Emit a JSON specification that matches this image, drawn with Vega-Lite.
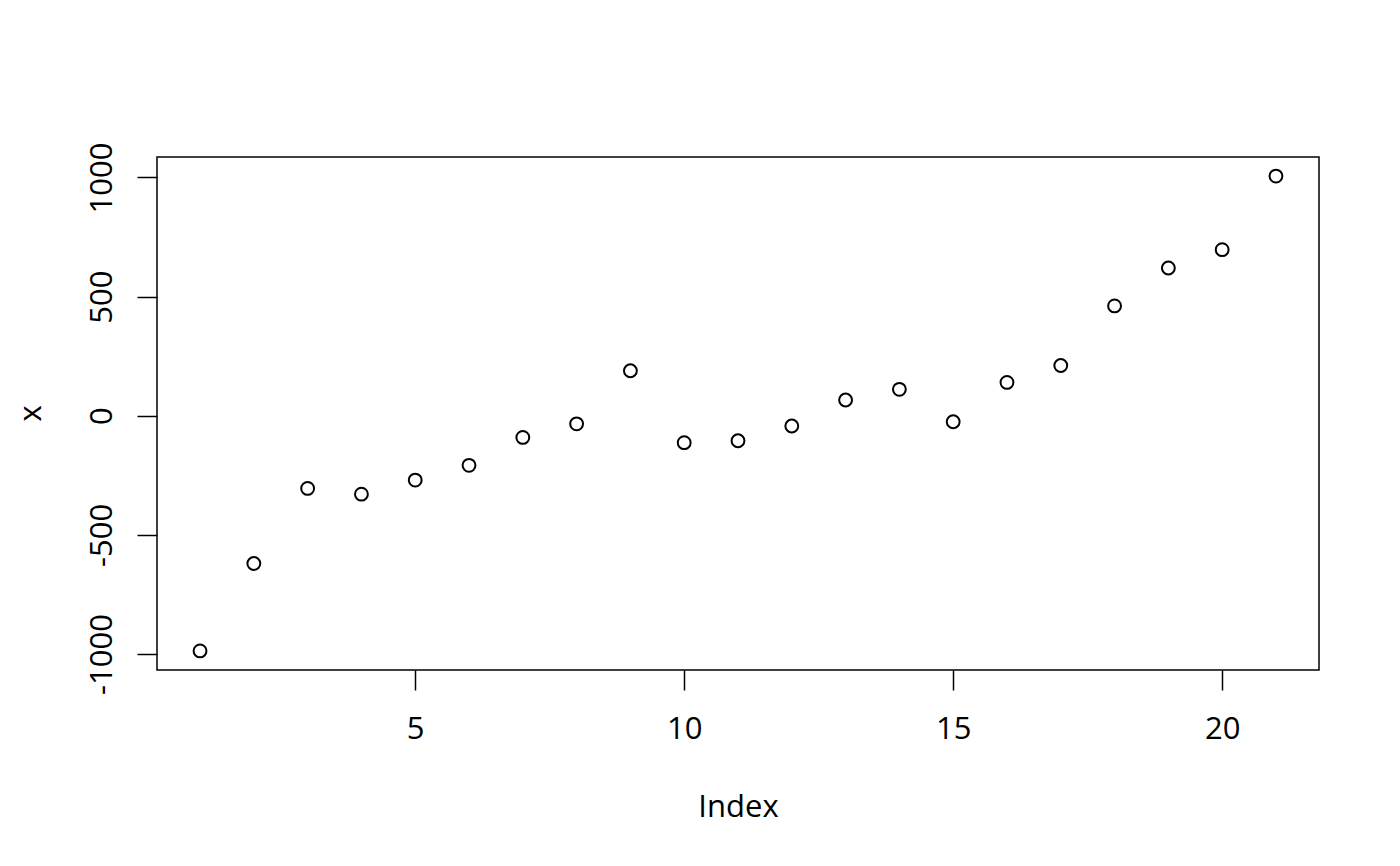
{
  "$schema": "https://vega.github.io/schema/vega-lite/v6.json",
  "width": 1162,
  "height": 513,
  "autosize": "none",
  "padding": {"left": 157, "top": 157, "right": 81, "bottom": 196},
  "background": "white",
  "config": {
    "font": "Open Sans",
    "view": {"stroke": "black", "strokeWidth": 1.5},
    "axis": {
      "labelFont": "Open Sans",
      "titleFont": "Open Sans",
      "labelFontSize": 31,
      "titleFontSize": 31,
      "labelColor": "black",
      "titleColor": "black",
      "titleFontWeight": "normal",
      "tickColor": "black",
      "tickSize": 20,
      "tickWidth": 1.5,
      "domain": false,
      "grid": false
    }
  },
  "data": {
    "values": [
      {"Index": 1, "x": -987},
      {"Index": 2, "x": -620},
      {"Index": 3, "x": -305},
      {"Index": 4, "x": -329},
      {"Index": 5, "x": -270},
      {"Index": 6, "x": -208},
      {"Index": 7, "x": -91},
      {"Index": 8, "x": -34},
      {"Index": 9, "x": 189},
      {"Index": 10, "x": -113},
      {"Index": 11, "x": -105},
      {"Index": 12, "x": -43},
      {"Index": 13, "x": 66},
      {"Index": 14, "x": 111},
      {"Index": 15, "x": -25},
      {"Index": 16, "x": 140},
      {"Index": 17, "x": 211},
      {"Index": 18, "x": 461},
      {"Index": 19, "x": 620},
      {"Index": 20, "x": 697},
      {"Index": 21, "x": 1006}
    ]
  },
  "mark": {
    "type": "point",
    "shape": "circle",
    "filled": false,
    "stroke": "black",
    "strokeWidth": 2,
    "size": 165,
    "opacity": 1
  },
  "encoding": {
    "x": {
      "field": "Index",
      "type": "quantitative",
      "scale": {"domain": [0.2, 21.8], "nice": false, "zero": false},
      "axis": {
        "values": [5, 10, 15, 20],
        "labelBaseline": "alphabetic",
        "labelPadding": 48,
        "labelAlign": "center",
        "titleBaseline": "alphabetic",
        "titleY": 146
      }
    },
    "y": {
      "field": "x",
      "type": "quantitative",
      "scale": {"domain": [-1067, 1086], "nice": false, "zero": false},
      "axis": {
        "values": [-1000, -500, 0, 500, 1000],
        "labelExpr": "'' + datum.value",
        "labelAngle": -90,
        "labelAlign": "center",
        "labelBaseline": "alphabetic",
        "labelPadding": 26,
        "titleAngle": -90,
        "titleBaseline": "alphabetic",
        "titleX": -117,
        "titleY": 256
      }
    }
  }
}
